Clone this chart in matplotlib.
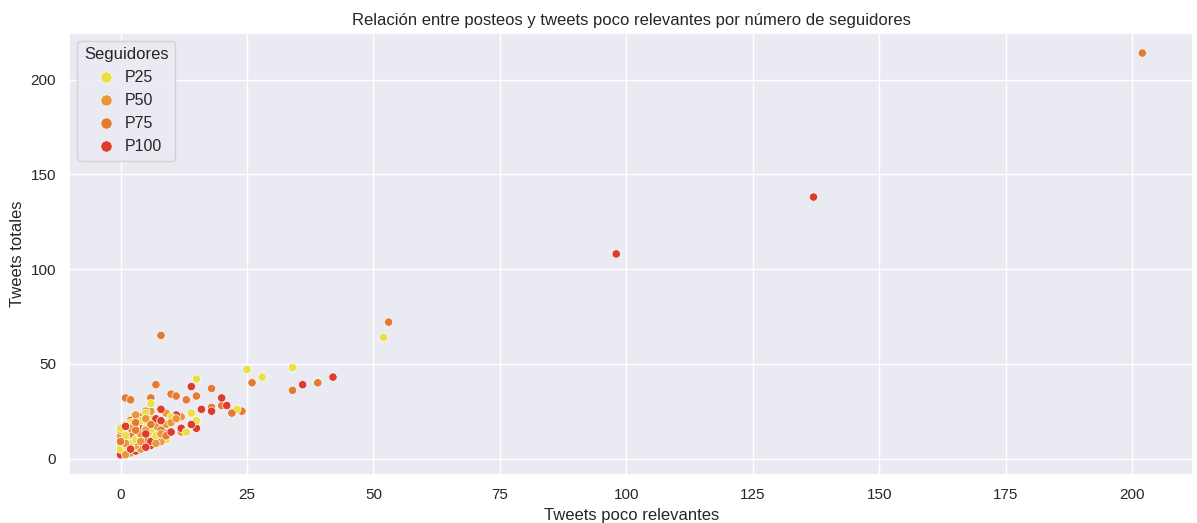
import numpy as np
import pandas as pd
import matplotlib
matplotlib.use('Agg')
import matplotlib.pyplot as plt
import seaborn as sns

# data: (tweets poco relevantes, tweets totales) per follower group
p25_x = [25, 28, 34, 52, 15, 6, 14, 15, 13, 9, 23, 5, 3,
         0, 0, 0, 0, 0, 1, 1, 1, 1, 1, 2, 2, 2, 2, 3, 3, 3, 4, 4, 4, 5, 5, 6, 6, 7, 8, 4, 3, 2, 6, 10,
         0, 0, 0, 1, 1, 1, 2, 2, 2, 3, 3, 3, 4, 4, 5, 5, 6, 6, 7, 7, 8]
p25_y = [47, 43, 48, 64, 42, 29, 24, 20, 14, 10, 26, 24, 21,
         4, 7, 10, 13, 16, 5, 9, 12, 15, 18, 6, 11, 14, 19, 8, 13, 17, 10, 15, 20, 12, 18, 14, 22, 16, 20, 8, 6, 17, 11, 22,
         5, 9, 14, 7, 11, 16, 8, 13, 17, 10, 15, 20, 12, 18, 11, 16, 13, 19, 12, 18, 16]
p50_x = [11, 12, 9, 1, 2, 4, 7, 8, 6, 3,
         0, 0, 1, 1, 2, 2, 3, 3, 4, 4, 5, 5, 6, 7, 8, 9, 10, 5, 12,
         0, 1, 2, 3, 4, 6]
p50_y = [21, 14, 18, 2, 3, 5, 8, 9, 25, 23,
         6, 12, 8, 14, 9, 16, 11, 19, 13, 17, 9, 15, 12, 17, 13, 24, 19, 21, 22,
         15, 17, 18, 7, 9, 10]
p75_x = [202, 53, 8, 26, 34, 39, 1, 2, 6, 10, 11, 15, 13, 18, 20, 18, 22, 24, 7,
         0, 1, 2, 3, 4, 5, 6, 7, 8, 9, 4, 5, 3]
p75_y = [214, 72, 65, 40, 36, 40, 32, 31, 32, 34, 33, 33, 31, 37, 28, 27, 24, 25, 39,
         9, 11, 13, 15, 7, 10, 18, 11, 15, 12, 22, 25, 19]
p100_x = [137, 98, 36, 42, 14, 20, 21, 16, 18, 8, 7, 10, 15, 0, 5,
          0, 1, 2, 3, 4, 5, 6, 7, 8, 9, 12, 14, 11, 3, 1, 2, 6]
p100_y = [138, 108, 39, 43, 38, 32, 28, 26, 25, 26, 21, 14, 16, 2, 6,
          11, 3, 5, 4, 16, 13, 7, 10, 20, 13, 16, 18, 23, 9, 17, 20, 9]

groups = ['P25', 'P50', 'P75', 'P100']
colors = ['#ebdf45', '#e9973a', '#e57a32', '#dd3c2c']

df = pd.concat([
    pd.DataFrame({'x': p25_x, 'y': p25_y, 'Seguidores': 'P25'}),
    pd.DataFrame({'x': p50_x, 'y': p50_y, 'Seguidores': 'P50'}),
    pd.DataFrame({'x': p75_x, 'y': p75_y, 'Seguidores': 'P75'}),
    pd.DataFrame({'x': p100_x, 'y': p100_y, 'Seguidores': 'P100'}),
])
# mix draw order a bit so no group hides the others in the dense corner
df = df.iloc[np.argsort(np.arange(len(df)) % 3, kind='stable')]

sns.set_theme(style='darkgrid')
plt.rcParams['font.family'] = ['Liberation Sans', 'DejaVu Sans']

fig, ax = plt.subplots(figsize=(11.97, 5.23), dpi=100)
sns.scatterplot(data=df, x='x', y='y', hue='Seguidores', hue_order=groups,
                palette=colors, ax=ax)
ax.set_title('Relación entre posteos y tweets poco relevantes por número de seguidores')
ax.set_xlabel('Tweets poco relevantes')
ax.set_ylabel('Tweets totales')
ax.legend(title='Seguidores', loc='upper left', markerscale=1.35, fontsize=11.5,
          title_fontsize=12, handletextpad=0.2)
fig.subplots_adjust(left=0.058, right=0.997, top=0.937, bottom=0.092)
fig.savefig('out.png')
